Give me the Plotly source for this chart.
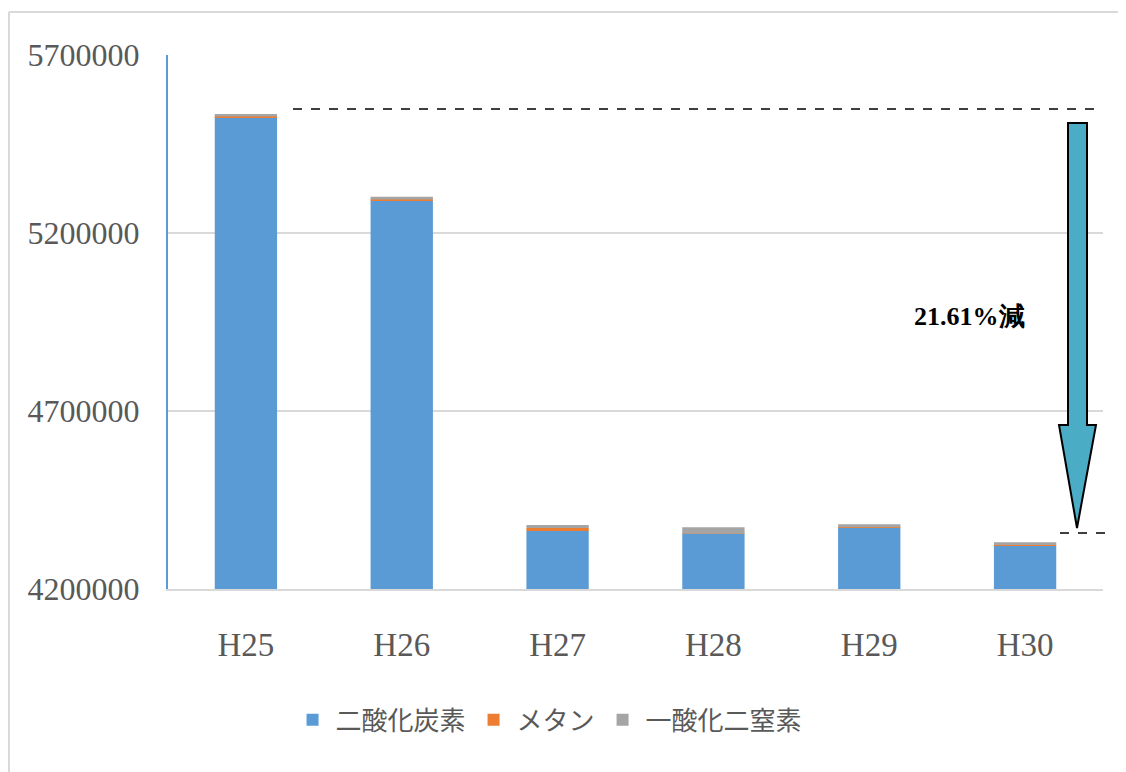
import plotly.graph_objects as go

categories = ["H25", "H26", "H27", "H28", "H29", "H30"]
co2 = [5525000, 5292000, 4363000, 4354500, 4372000, 4321500]
methane = [2000, 2000, 8500, 1000, 1500, 2000]
n2o = [7000, 8000, 8500, 18000, 8500, 7500]
series_names = ["二酸化炭素", "メタン", "一酸化二窒素"]
y_ticks = [4200000, 4700000, 5200000, 5700000]
note_text = "21.61%減"
ref_top = 5548000
ref_bottom = 4357000

base = 4200000
colors = ["#5B9BD5", "#ED7D31", "#A5A5A5"]

fig = go.Figure()
fig.add_trace(go.Bar(x=categories, y=[v - base for v in co2], base=base,
                     name=series_names[0], marker=dict(color=colors[0], line=dict(width=0))))
fig.add_trace(go.Bar(x=categories, y=methane, base=co2,
                     name=series_names[1], marker=dict(color=colors[1], line=dict(width=0))))
fig.add_trace(go.Bar(x=categories, y=n2o, base=[c + m for c, m in zip(co2, methane)],
                     name=series_names[2], marker=dict(color=colors[2], line=dict(width=0))))

# page offset: plotly div sits 8px from page edge
L, T, PW, PH = 160, 47, 935, 534

fig.update_layout(
    width=1126, height=772,
    margin=dict(l=L, r=1126 - L - PW, t=T, b=772 - T - PH),
    paper_bgcolor="white", plot_bgcolor="white",
    barmode="overlay", bargap=0.6,
    font=dict(family="Liberation Serif", color="#595959"),
    showlegend=True,
    legend=dict(orientation="h", x=0.407, xanchor="center", y=-0.245, yanchor="middle",
                font=dict(family="Noto Sans CJK JP", size=26, color="#595959"),
                itemsizing="constant", itemwidth=36, traceorder="normal"),
    xaxis=dict(showgrid=False, showline=True, linecolor="#D9D9D9", linewidth=2,
               ticks="", tickfont=dict(size=33, color="#595959", family="Liberation Serif"),
               ticklabelstandoff=25),
    yaxis=dict(range=[4200000, 5700000], tickvals=y_ticks, ticktext=[str(v) for v in y_ticks],
               showgrid=True, gridcolor="#D9D9D9", gridwidth=2,
               showline=True, linecolor="#5B9BD5", linewidth=2, zeroline=False,
               ticks="", tickfont=dict(size=32, color="#595959", family="Liberation Serif"),
               ticklabelstandoff=20),
)

def px(xs):
    # screen x -> paper x
    return (xs - 8 - L) / PW

def py(ys):
    # screen y -> paper y
    return 1 - (ys - 8 - T) / PH

def vy(ys):
    return base + (589 - ys) * (1500000 / 534)

# outer chart border (left and top)
fig.add_shape(type="line", xref="paper", yref="paper", x0=px(9), x1=px(1140), y0=py(12), y1=py(12),
              line=dict(color="#D9D9D9", width=2))
fig.add_shape(type="line", xref="paper", yref="paper", x0=px(9), x1=px(9), y0=py(12), y1=py(790),
              line=dict(color="#D9D9D9", width=2))

# dashed reference lines
fig.add_shape(type="line", xref="paper", yref="y", x0=px(293), x1=px(1095),
              y0=ref_top, y1=ref_top, line=dict(color="black", width=1.5, dash="dash"))
fig.add_shape(type="line", xref="paper", yref="y", x0=px(1060), x1=px(1108),
              y0=ref_bottom, y1=ref_bottom, line=dict(color="black", width=1.5, dash="dash"))

# block arrow
pts = [(1068, 123), (1087, 123), (1087, 425), (1096, 425), (1077, 528),
       (1059, 425), (1068, 425)]
path = "M " + " L ".join(f"{px(x):.5f},{vy(y):.1f}" for x, y in pts) + " Z"
fig.add_shape(type="path", xref="paper", yref="y", path=path,
              fillcolor="#4BACC6", line=dict(color="black", width=2))

fig.add_annotation(xref="paper", yref="y", x=px(969), y=vy(316), xanchor="center", yanchor="middle",
                   text=f"<b>{note_text}</b>", showarrow=False,
                   font=dict(family="Liberation Serif", size=26, color="black"))

fig.write_html("out.html")
